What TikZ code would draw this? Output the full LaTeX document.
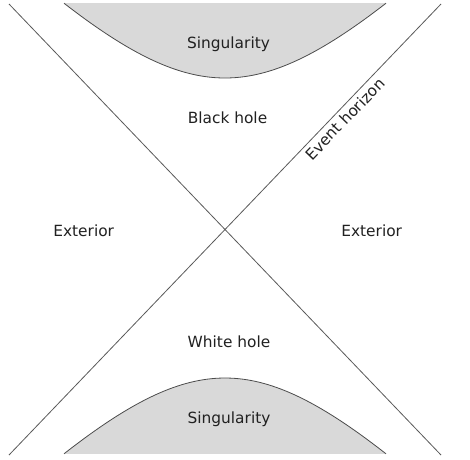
\documentclass[tikz,border=0pt]{standalone}
\usepackage{fontspec}
\setmainfont{DejaVu Sans}
\begin{document}
\begin{tikzpicture}[x=1pt,y=-1pt,
  horizon/.style={draw=black!65, line width=0.8pt},
  singul/.style={fill=black!15, draw=none},
  singedge/.style={draw=black!70, line width=0.8pt},
  lbl/.style={text=black!87, font=\fontsize{15.4}{18}\selectfont, inner sep=0pt, anchor=base}
]
\useasboundingbox (0,0) rectangle (470,459);
% corners of the horizons
\coordinate (TL) at (9,4);
\coordinate (BR) at (441,455);
\coordinate (BL) at (9,455);
\coordinate (TR) at (441,4);
% singularities
\fill[singul] plot[domain=64:386, samples=80, smooth] (\x, {229.5-225.5*sqrt(0.4514+((\x-225)/216)^2)}) -- cycle;
\draw[singedge] plot[domain=64:386, samples=80, smooth] (\x, {229.5-225.5*sqrt(0.4514+((\x-225)/216)^2)});
\fill[singul] plot[domain=64:386, samples=80, smooth] (\x, {229.5+225.5*sqrt(0.4337+((\x-225)/216)^2)}) -- cycle;
\draw[singedge] plot[domain=64:386, samples=80, smooth] (\x, {229.5+225.5*sqrt(0.4337+((\x-225)/216)^2)});
% horizons
\draw[horizon] (TL) -- (BR);
\draw[horizon] (BL) -- (TR);
% labels
\node[lbl] (s1) at (228.5,48) {Singularity};
\node[lbl] (bh) at (227.5,123) {Black hole};
\node[lbl] (ex1) at (83.7,236) {Exterior};
\node[lbl] (ex2) at (371.7,236) {Exterior};
\node[lbl] (wh) at (229,347.5) {White hole};
\node[lbl] (s2) at (229,423) {Singularity};
\node[lbl, anchor=center, rotate=46] (eh) at (345,119) {Event horizon};
\end{tikzpicture}
\end{document}
